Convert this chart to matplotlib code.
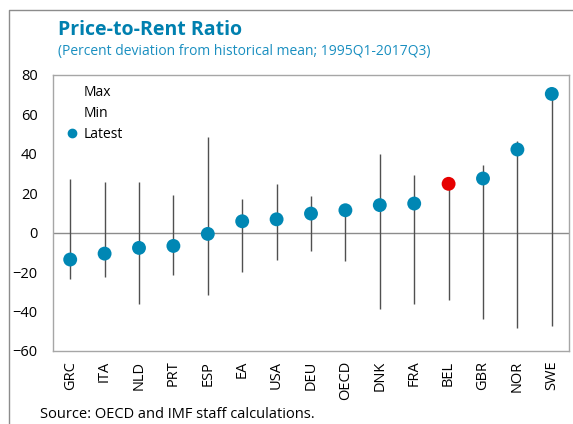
import numpy as np
import matplotlib
matplotlib.use('Agg')
import matplotlib.pyplot as plt
from matplotlib.lines import Line2D

plt.rcParams['font.family'] = ['Open Sans', 'DejaVu Sans']

countries = ['GRC', 'ITA', 'NLD', 'PRT', 'ESP', 'EA', 'USA', 'DEU',
             'OECD', 'DNK', 'FRA', 'BEL', 'GBR', 'NOR', 'SWE']
max_vals = [27.1, 25.5, 25.5, 19.0, 48.3, 17.3, 24.6, 18.6,
            12.0, 40.0, 29.5, 25.0, 34.2, 46.4, 70.4]
min_vals = [-23.6, -22.4, -36.4, -21.7, -31.4, -19.7, -13.6, -9.4,
            -14.6, -38.5, -36.1, -33.9, -43.9, -48.3, -47.4]
latest = [-13.6, -10.6, -7.7, -6.7, -0.6, 5.8, 6.8, 9.7,
          11.4, 14.0, 14.8, 24.8, 27.5, 42.2, 70.4]
highlight = 'BEL'

TEAL = '#0087B4'
RED = '#E60000'

fig = plt.figure(figsize=(5.73, 4.24), dpi=100)
ax = fig.add_axes([53 / 573, 1 - 351 / 424, 516 / 573, 276 / 424])

x = np.arange(len(countries))
ax.vlines(x, min_vals, max_vals, color='#505050', lw=1.0, zorder=2)
ax.axhline(0, color='#8c8c8c', lw=1.0, zorder=1)

colors = [RED if c == highlight else TEAL for c in countries]
ax.scatter(x, latest, s=100, c=colors, zorder=3, linewidths=0)

ax.set_xlim(-0.5, len(countries) - 0.5)
ax.set_ylim(-60, 80)
ax.set_yticks(range(-60, 81, 20))
ax.set_xticks(x)
ax.set_xticklabels(countries, rotation=90)
ax.tick_params(axis='both', length=0, labelsize=10.5, colors='black')
ax.tick_params(axis='x', pad=7)
ax.tick_params(axis='y', pad=11)
for s in ax.spines.values():
    s.set_color('#a6a6a6')
    s.set_linewidth(1.0)

handles = [Line2D([], [], lw=0, marker=None),
           Line2D([], [], lw=0, marker=None),
           Line2D([], [], lw=0, marker='o', color=TEAL, markersize=6)]
ax.legend(handles, ['Max', 'Min', 'Latest'], loc='upper left', frameon=False,
          fontsize=10, handlelength=0.6, handletextpad=0.5, labelspacing=0.45,
          borderaxespad=0.3, bbox_to_anchor=(0.01, 1.0))

fig.text(58 / 573, 1 - 30 / 424, 'Price-to-Rent Ratio', color='#0080AF',
         fontsize=14, fontweight='bold', va='center', ha='left')
fig.text(58 / 573, 1 - 52 / 424,
         '(Percent deviation from historical mean; 1995Q1-2017Q3)',
         color='#1a8fc0', fontsize=10, va='center', ha='left')
fig.text(40 / 573, 1 - 414 / 424, 'Source: OECD and IMF staff calculations.',
         fontsize=10.5, va='center', ha='left')

# outer frame
fx = 9 / 573
fy = 1 - 10 / 424
fig.add_artist(Line2D([fx, fx, 1], [0, fy, fy], transform=fig.transFigure,
                      color='#8c8c8c', lw=1.0))

fig.savefig('out.png', dpi=100)
